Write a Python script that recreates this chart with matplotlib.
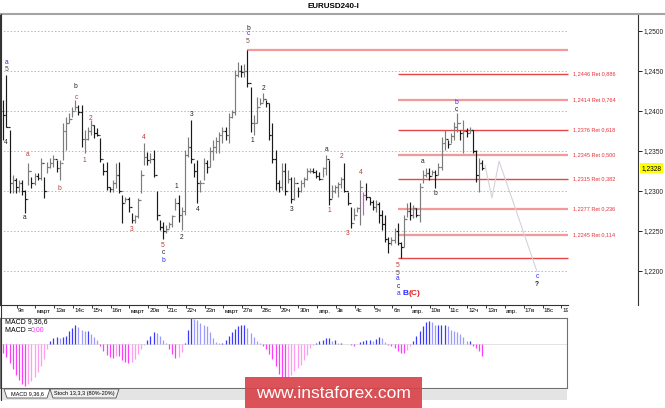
import matplotlib
matplotlib.use("Agg")
import matplotlib.pyplot as plt
from matplotlib.patches import Rectangle, Polygon
from matplotlib.transforms import Bbox, TransformedBbox, blended_transform_factory
import numpy as np

# 4H bars of EURUSD
highs = [
    1.2413, 1.2445, 1.2376, 1.2320, 1.2316, 1.2313, 1.2313, 1.2301, 1.2335, 1.2317,
    1.2322, 1.2322, 1.2341, 1.2317, 1.2336, 1.2341, 1.2345, 1.2338, 1.2338, 1.2385,
    1.2392, 1.2397, 1.2405, 1.2413, 1.2407, 1.2407, 1.2376, 1.2380, 1.2388, 1.2382,
    1.2378, 1.2366, 1.2335, 1.2336, 1.2305, 1.2313, 1.2335, 1.2336, 1.2295, 1.2292,
    1.2292, 1.2272, 1.2270, 1.2291, 1.2326, 1.2360, 1.2348, 1.2347, 1.2351, 1.2300,
    1.2263, 1.2261, 1.2257, 1.2261, 1.2270, 1.2291, 1.2295, 1.2280, 1.2351, 1.2367,
    1.2388, 1.2335, 1.2338, 1.2313, 1.2341, 1.2338, 1.2355, 1.2363, 1.2367, 1.2373,
    1.2380, 1.2380, 1.2397, 1.2401, 1.2451, 1.2461, 1.2457, 1.2459, 1.2476, 1.2430,
    1.2395, 1.2417, 1.2416, 1.2422, 1.2413, 1.2410, 1.2385, 1.2351, 1.2313, 1.2335,
    1.2335, 1.2326, 1.2317, 1.2317, 1.2305, 1.2313, 1.2317, 1.2328, 1.2328, 1.2328,
    1.2326, 1.2323, 1.2330, 1.2345, 1.2338, 1.2307, 1.2307, 1.2311, 1.2317, 1.2335,
    1.2298, 1.2280, 1.2278, 1.2280, 1.2313, 1.2298, 1.2310, 1.2292, 1.2288, 1.2288,
    1.2286, 1.2276, 1.2270, 1.2242, 1.2242, 1.2253, 1.2260, 1.2236, 1.2270, 1.2285,
    1.2286, 1.2282, 1.2278, 1.2310, 1.2326, 1.2328, 1.2328, 1.2326, 1.2326, 1.2335,
    1.2367, 1.2376, 1.2363, 1.2372, 1.2386, 1.2397, 1.2376, 1.2388, 1.2378, 1.2380,
    1.2376, 1.2351, 1.2341, 1.2338,
]
lows = [
    1.2363, 1.2380, 1.2297, 1.2297, 1.2297, 1.2298, 1.2295, 1.2272, 1.2307, 1.2303,
    1.2307, 1.2313, 1.2313, 1.2291, 1.2322, 1.2328, 1.2330, 1.2323, 1.2313, 1.2338,
    1.2351, 1.2385, 1.2392, 1.2401, 1.2395, 1.2355, 1.2347, 1.2363, 1.2370, 1.2366,
    1.2368, 1.2336, 1.2320, 1.2301, 1.2298, 1.2298, 1.2303, 1.2297, 1.2260, 1.2286,
    1.2273, 1.2260, 1.2260, 1.2266, 1.2297, 1.2332, 1.2332, 1.2335, 1.2317, 1.2263,
    1.2251, 1.2240, 1.2247, 1.2253, 1.2255, 1.2276, 1.2261, 1.2251, 1.2270, 1.2342,
    1.2335, 1.2317, 1.2285, 1.2298, 1.2313, 1.2322, 1.2330, 1.2338, 1.2347, 1.2347,
    1.2360, 1.2363, 1.2360, 1.2391, 1.2395, 1.2442, 1.2442, 1.2442, 1.2430, 1.2373,
    1.2370, 1.2385, 1.2407, 1.2411, 1.2405, 1.2363, 1.2335, 1.2301, 1.2298, 1.2301,
    1.2295, 1.2310, 1.2285, 1.2288, 1.2292, 1.2298, 1.2305, 1.2313, 1.2322, 1.2322,
    1.2316, 1.2313, 1.2317, 1.2320, 1.2282, 1.2291, 1.2297, 1.2292, 1.2303, 1.2298,
    1.2282, 1.2253, 1.2263, 1.2273, 1.2257, 1.2270, 1.2288, 1.2282, 1.2276, 1.2273,
    1.2260, 1.2251, 1.2236, 1.2222, 1.2232, 1.2235, 1.2232, 1.2216, 1.2230, 1.2267,
    1.2263, 1.2266, 1.2267, 1.2261, 1.2310, 1.2317, 1.2313, 1.2320, 1.2303, 1.2320,
    1.2326, 1.2351, 1.2353, 1.2360, 1.2363, 1.2373, 1.2363, 1.2347, 1.2367, 1.2372,
    1.2347, 1.2311, 1.2298, 1.2326,
]
closes = [
    1.2395, 1.2380, 1.2310, 1.2313, 1.2305, 1.2310, 1.2300, 1.2290, 1.2325, 1.2310,
    1.2318, 1.2316, 1.2335, 1.2300, 1.2330, 1.2335, 1.2340, 1.2328, 1.2335, 1.2375,
    1.2385, 1.2390, 1.2400, 1.2405, 1.2398, 1.2365, 1.2365, 1.2375, 1.2382, 1.2372,
    1.2370, 1.2340, 1.2325, 1.2305, 1.2302, 1.2310, 1.2320, 1.2300, 1.2285, 1.2290,
    1.2280, 1.2263, 1.2268, 1.2288, 1.2320, 1.2342, 1.2338, 1.2340, 1.2320, 1.2270,
    1.2255, 1.2250, 1.2252, 1.2258, 1.2268, 1.2285, 1.2270, 1.2275, 1.2345, 1.2355,
    1.2340, 1.2325, 1.2310, 1.2310, 1.2335, 1.2330, 1.2350, 1.2355, 1.2362, 1.2370,
    1.2375, 1.2370, 1.2392, 1.2398, 1.2445, 1.2450, 1.2448, 1.2450, 1.2435, 1.2385,
    1.2385, 1.2405, 1.2410, 1.2415, 1.2410, 1.2370, 1.2340, 1.2310, 1.2305, 1.2325,
    1.2300, 1.2315, 1.2290, 1.2310, 1.2300, 1.2310, 1.2315, 1.2325, 1.2325, 1.2324,
    1.2318, 1.2315, 1.2328, 1.2340, 1.2290, 1.2300, 1.2305, 1.2308, 1.2315, 1.2300,
    1.2285, 1.2260, 1.2270, 1.2278, 1.2305, 1.2295, 1.2292, 1.2286, 1.2280, 1.2283,
    1.2270, 1.2258, 1.2240, 1.2235, 1.2238, 1.2250, 1.2235, 1.2230, 1.2265, 1.2275,
    1.2270, 1.2278, 1.2270, 1.2305, 1.2320, 1.2322, 1.2318, 1.2323, 1.2320, 1.2330,
    1.2360, 1.2365, 1.2358, 1.2368, 1.2380, 1.2385, 1.2372, 1.2375, 1.2372, 1.2376,
    1.2350, 1.2320, 1.2335, 1.2328,
]
opens = [1.2400] + closes[:-1]
marked_bar = 115  # the pink bar

# MACD 9,36,6 histogram (pips)
macd = [
    -9, -13, -19, -25, -31, -36, -40, -42, -40, -37,
    -33, -28, -22, -15, -5, 3, 6, 7, 6, 7,
    8, 13, 16, 19, 17, 14, 13, 13, 10, 7,
    4, -2, -7, -11, -13, -14, -12, -12, -16, -18,
    -19, -18, -15, -10, -5, -1, 4, 8, 12, 11,
    8, 4, 1, -5, -10, -14, -13, -8, 1, 14,
    26, 25, 24, 21, 19, 18, 12, 6, 2, 1,
    1, 4, 8, 12, 15, 18, 19, 19, 16, 11,
    7, 3, 1, -2, -5, -10, -15, -22, -30, -34,
    -34, -33, -31, -27, -24, -21, -16, -11, -4, -1,
    1, 3, 4, 6, 6, 3, 4, 1, 1, 0.5,
    0.5, -1, -2, 0.5, 2, 3, 4, 4, 3, 5,
    7, 6, 2, -1, -2, -4, -7, -9, -9, -6,
    -2, 3, 8, 13, 18, 22, 23, 22, 19, 19,
    19, 19, 18, 14, 13, 12, 10, 7, 3, 3,
    -2, -4, -7, -12,
]

day_labels = ["9п", "март", "13в", "14с", "15ч", "16п", "март", "20в", "21с", "22ч",
              "23п", "март", "27в", "28с", "29ч", "30п", "апр.", "3в", "4с", "5ч",
              "6п", "апр.", "10в", "11с", "12ч", "13п", "апр.", "17в", "18с", "19ч"]
price_ticks = [1.2200, 1.2250, 1.2300, 1.2350, 1.2400, 1.2450, 1.2500]
last_price = 1.2328

fib_top = 1.2476
fib_bottom = 1.2216
fib_levels = [1.2446, 1.2414, 1.2376, 1.2345, 1.2315, 1.2277, 1.2245]
fib_ratios = ["0,886", "0,764", "0,618", "0,500", "0,382", "0,236", "0,114"]

proj_x = [153.9, 156.1, 158.4, 170.5]
proj_y = [1.2332, 1.2291, 1.2337, 1.2199]

RED = "#b83a30"
BLUE = "#2a2aff"
BLK = "#222222"
wave_x = [0.9, 0.9, 0.9, 6.9, 7.9, 17.8, 22.9, 23.2, 25.8, 28.0,
          41.1, 45.0, 51.0, 51.0, 51.0, 55.2, 57.1, 60.3, 62.2, 78.2,
          78.2, 78.2, 79.5, 83.0, 92.2, 103.4, 104.1, 108.2, 110.1, 114.3,
          126.1, 126.1, 126.1, 126.1, 126.3, 134.1, 137.9, 144.9, 144.9, 170.5,
          170.5]
wave_y = [1.2460, 1.2452, 1.2360, 1.2266, 1.2345, 1.2303, 1.2430, 1.2417, 1.2338, 1.2390,
          1.2251, 1.2366, 1.2232, 1.2223, 1.2213, 1.2305, 1.2242, 1.2395, 1.2277, 1.2503,
          1.2496, 1.2486, 1.2363, 1.2428, 1.2276, 1.2351, 1.2275, 1.2343, 1.2247, 1.2323,
          1.2207, 1.2197, 1.2190, 1.2180, 1.2171, 1.2336, 1.2296, 1.2410, 1.2402, 1.2193,
          1.2183]
wave_text = ["a", "5", "4", "a", "a", "b", "b", "c", "1", "2",
             "3", "4", "5", "c", "b", "1", "2", "3", "4", "b",
             "c", "5", "1", "2", "3", "a", "1", "2", "3", "4",
             "5", "5", "a", "c", "a", "a", "b", "b", "c", "c",
             "?"]
wave_color = [BLUE, "#5a4040", BLK, BLK, RED, RED, BLK, RED, RED, RED,
              RED, RED, RED, BLK, BLUE, BLK, BLK, BLK, BLK, BLK,
              BLUE, "#7a5040", BLK, BLK, BLK, BLK, RED, RED, RED, RED,
              RED, "#5a4040", BLUE, BLK, BLUE, BLK, BLK, BLUE, BLK, BLUE,
              BLK]

plt.rcParams["font.family"] = ["Liberation Sans", "DejaVu Sans"]

W, H = 665, 408
BAR0, BARW = 3.3, 3.13   # pixel x of first bar, pixels per bar


def px2bar(px):
    return (px - BAR0) / BARW


fig = plt.figure(figsize=(W / 100, H / 100), dpi=100)
fig.patch.set_facecolor("white")

# ---- price panel ----
ax = fig.add_axes([0, 1 - 305 / H, 638 / W, (305 - 14) / H])
ax.set_xlim(px2bar(0), px2bar(638))
ax.set_ylim(1.25 - (305 - 30.7) / 8000, 1.25 + (30.7 - 14) / 8000)
x_end = px2bar(568)

ax.hlines(price_ticks, px2bar(0), x_end, colors="#b8b8b8", linestyles=(0, (1.5, 2)), lw=0.7, zorder=1)

# fibo levels
ax.hlines(fib_top, 78, x_end, colors="#f29a9a", lw=1.6, zorder=2)
ax.hlines(fib_bottom, 126, x_end, colors="#e84545", lw=1.0, zorder=2)
for k, (lvl, r) in enumerate(zip(fib_levels, fib_ratios)):
    thick = k in (1, 3, 5, 6)
    ax.hlines(lvl, 126, x_end, colors="#f29a9a" if thick else "#e84545",
              lw=1.6 if thick else 1.0, zorder=2)
    ax.text(px2bar(573), lvl, "{} Ret {}".format(("%.4f" % lvl).replace(".", ","), r),
            fontsize=4, color="#e8303a", va="center", ha="left")

# bars
xb = np.arange(len(closes))
up = np.array(closes) >= np.array(opens)
cols = np.where(up, "#7c7c7c", "#1a1a1a").astype(object)
cols[marked_bar] = "#ff33ff"
ax.vlines(xb, lows, highs, colors=list(cols), lw=0.85, zorder=3)
ax.hlines(opens, xb - 0.55, xb, colors=list(cols), lw=0.85, zorder=3)
ax.hlines(closes, xb, xb + 0.55, colors=list(cols), lw=0.85, zorder=3)

ax.plot(proj_x, proj_y, color="#d8d0da", lw=0.8, zorder=2)

for wx, wy, wt, wc in zip(wave_x, wave_y, wave_text, wave_color):
    ax.text(wx, wy, wt, fontsize=4.8, color=wc, ha="center", va="center",
            fontweight="bold" if wt == "?" else "normal", zorder=5)
ax.text(px2bar(402.5), 1.2171, "B", fontsize=6, color=BLUE, fontweight="bold", ha="left", va="center")
ax.text(px2bar(409), 1.2171, "(C)", fontsize=6, color="#e02020", fontweight="bold", ha="left", va="center")

# axes styling
ax.yaxis.tick_right()
ax.set_yticks(price_ticks)
ax.set_yticklabels([("%.4f" % p).replace(".", ",") for p in price_ticks])
ax.tick_params(axis="y", direction="out", length=3, width=0.7, pad=1, labelsize=4.8, colors="#222222")
ticks = [px2bar(16.7) + 6 * d for d in range(len(day_labels))]
ax.set_xticks(ticks)
ax.set_xticklabels([])
ax.tick_params(axis="x", direction="out", length=2.5, width=0.7, colors="#333333")
ax.spines["top"].set_visible(False)
ax.spines["bottom"].set_bounds(px2bar(0), x_end)
for s in ("left", "right", "bottom"):
    ax.spines[s].set_color("#333333")
    ax.spines[s].set_linewidth(0.8)

clip = TransformedBbox(Bbox([[0, 0], [568 / W, 1]]), fig.transFigure)
tr = blended_transform_factory(ax.transData, ax.transAxes)
for t, lab in zip(ticks, day_labels):
    txt = ax.text(t + 0.35, -6 / 291, lab, transform=tr, fontsize=4.5, ha="left", va="center")
    txt.set_clip_box(clip)
    txt.set_clip_on(True)

ax.text(1.005, last_price, "1,2328", transform=blended_transform_factory(ax.transAxes, ax.transData),
        fontsize=4.8, ha="left", va="center",
        bbox=dict(boxstyle="square,pad=0.2", fc="#ffff00", ec="none"))

# ---- MACD panel ----
am = fig.add_axes([0, 1 - 388 / H, 567 / W, 70 / H])
am.set_xlim(px2bar(0), px2bar(567))
am.set_ylim(-44, 26)
mv = np.array(macd, dtype=float)
prev = np.concatenate([[mv[0]], mv[:-1]])
mcols = []
for v, p in zip(mv, prev):
    if v >= 0:
        mcols.append("#3a3aff" if v >= p else "#9c9cff")
    else:
        mcols.append("#ff3dff" if v <= p else "#ff9df5")
am.axhline(0, color="#d8d8d8", lw=0.5)
am.vlines(np.arange(len(mv)), 0, mv, colors=mcols, lw=0.9)
am.set_xticks([])
am.set_yticks([])
for s in am.spines.values():
    s.set_color("#707070")
    s.set_linewidth(0.8)

# ---- overlay in pixel coordinates ----
ov = fig.add_axes([0, 0, 1, 1])
ov.set_xlim(0, W)
ov.set_ylim(H, 0)
ov.axis("off")
ov.plot([0, W], [14, 14], color="#a4a4a4", lw=1.5)
ov.plot([0.5, 0.5], [14, 400], color="#333333", lw=0.8)
ov.text(333, 6, "EURUSD240-I", fontsize=5.8, fontweight="bold", ha="center", va="center")

ov.text(5, 322, "MACD 9,36,6", fontsize=5, ha="left", va="center")
ov.text(5, 330, "MACD =", fontsize=5, ha="left", va="center")
ov.text(31, 330, "0,00", fontsize=5, color="#ff33ff", ha="left", va="center")

ov.add_patch(Rectangle((0, 389), 567, 11, fc="#e4e4e4", ec="none"))
ov.add_patch(Polygon([(4, 389), (7, 398), (47, 398), (50, 389)], closed=True, fc="white", ec="#555555", lw=0.6))
ov.add_patch(Polygon([(50, 389), (53, 398), (116, 398), (119, 389)], closed=True, fc="#efefef", ec="#555555", lw=0.6))
ov.text(27, 394, "MACD 9,36,6", fontsize=4, ha="center", va="center")
ov.text(84, 394, "Stoch 13,3,3 (80%-20%)", fontsize=4, ha="center", va="center")

ov.add_patch(Rectangle((245, 377), 177, 31, fc="#d8444a", ec="none", alpha=0.92))
ov.text(333, 393, "www.instaforex.com", fontsize=12.5, color="white", ha="center", va="center")

fig.savefig("out.png", dpi=100)
